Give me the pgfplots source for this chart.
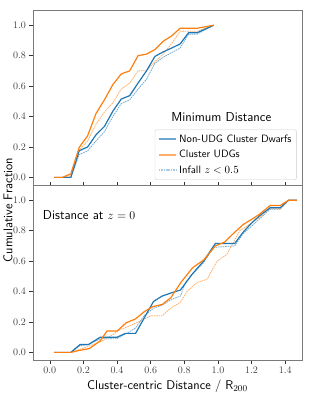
\documentclass[border=0pt]{standalone}
\usepackage{pgfplots}
\pgfplotsset{compat=1.18}
\definecolor{tabblue}{HTML}{1F77B4}
\definecolor{taborange}{HTML}{FF7F0E}
\definecolor{spine}{HTML}{7A7A7A}
\definecolor{legblue}{HTML}{6FA6D0}
\definecolor{legorange}{HTML}{FFAE6A}
\definecolor{legdash}{HTML}{A9CBE6}

\pgfplotstableread{
x     ob     bb     bd     od
0.025 0      0      0      0
0.075 0      0      0      0
0.125 0.024  0      0      0.01
0.175 0.197  0.175  0.15   0.18
0.225 0.274  0.20   0.175  0.24
0.275 0.42   0.28   0.24   0.35
0.325 0.51   0.335  0.30   0.43
0.375 0.61   0.435  0.40   0.49
0.425 0.68   0.515  0.485  0.58
0.475 0.70   0.537  0.51   0.62
0.525 0.80   0.62   0.58   0.70
0.575 0.81   0.70   0.645  0.70
0.625 0.84   0.795  0.75   0.76
0.675 0.895  0.825  0.79   0.81
0.725 0.93   0.85   0.82   0.88
0.775 0.98   0.877  0.85   0.96
0.825 0.98   0.95   0.94   0.96
0.875 0.98   0.95   0.94   0.96
0.925 0.99   0.975  0.97   0.98
0.975 1.0    1.0    1.0    1.0
}\toptable

\pgfplotstableread{
x     y
0.025 0
0.125 0
0.175 0.013
0.235 0.025
0.30  0.076
0.34  0.14
0.40  0.14
0.455 0.195
0.51  0.22
0.56  0.266
0.61  0.30
0.67  0.316
0.72  0.36
0.78  0.46
0.85  0.557
0.915 0.607
0.985 0.70
1.04  0.725
1.10  0.79
1.15  0.84
1.20  0.874
1.25  0.91
1.31  0.965
1.37  0.965
1.42  1.0
1.47  1.0
}\botorange

\pgfplotstableread{
x     y
0.025 0
0.125 0
0.18  0.052
0.23  0.052
0.30  0.10
0.40  0.10
0.45  0.125
0.51  0.125
0.617 0.335
0.668 0.37
0.728 0.393
0.777 0.41
0.846 0.513
0.915 0.60
0.985 0.716
1.10  0.716
1.15  0.79
1.20  0.85
1.25  0.90
1.31  0.95
1.37  0.95
1.42  1.0
1.47  1.0
}\botblue

\pgfplotstableread{
x     y
0.025 0
0.125 0
0.18  0.045
0.23  0.05
0.30  0.09
0.40  0.09
0.45  0.12
0.51  0.16
0.56  0.24
0.617 0.29
0.668 0.31
0.728 0.35
0.777 0.37
0.807 0.46
0.856 0.524
0.915 0.59
0.975 0.69
1.10  0.70
1.15  0.78
1.20  0.83
1.25  0.88
1.31  0.94
1.37  0.94
1.42  1.0
1.47  1.0
}\botbluedash

\pgfplotstableread{
x     y
0.025 0
0.125 0
0.18  0.02
0.23  0.04
0.30  0.07
0.35  0.10
0.42  0.15
0.50  0.186
0.56  0.218
0.60  0.24
0.668 0.24
0.718 0.29
0.777 0.33
0.816 0.40
0.876 0.46
0.935 0.48
0.995 0.60
1.054 0.645
1.10  0.74
1.13  0.80
1.20  0.85
1.25  0.89
1.31  0.945
1.37  0.945
1.42  1.0
1.47  1.0
}\botorangedash

\begin{document}
\begin{tikzpicture}
\path[use as bounding box] (-33pt,-386pt) rectangle (281pt,10pt);
\pgfplotsset{
  panel/.style={
    scale only axis, width=269pt, height=175pt,
    xmin=-0.1, xmax=1.5, ymin=-0.05, ymax=1.1,
    axis line style={spine, line width=0.8pt},
    xtick={0,0.2,0.4,0.6,0.8,1.0,1.2,1.4},
    ytick={0,0.2,0.4,0.6,0.8,1.0},
    tick align=outside, major tick length=3.5pt,
    xtick pos=bottom, ytick pos=left,
    tick style={black!80, line width=0.6pt},
    ticklabel style={font=\normalsize, text=black!75},
    yticklabel style={/pgf/number format/.cd, fixed, fixed zerofill, precision=1},
    xticklabel style={/pgf/number format/.cd, fixed, fixed zerofill, precision=1},
    solidb/.style={color=tabblue, line width=1.2pt},
    solido/.style={color=taborange, line width=1.2pt},
    dashb/.style={color=tabblue!65, line width=0.75pt, dash pattern=on 1.6pt off 0.8pt},
    dasho/.style={color=taborange!65, line width=0.75pt, dash pattern=on 1.6pt off 0.8pt},
  }
}
\begin{axis}[panel, at={(0pt,0pt)}, anchor=north west,
  xticklabels={}, x tick style={yshift=3.5pt},
  legend cell align=left,
  legend image code/.code={\draw[line width=1.6pt, #1] (0cm,0cm) -- (0.62cm,0cm);},
  legend style={at={(rel axis cs:0.980,0.029)}, anchor=south east,
    draw=black!20, rounded corners=2pt, fill=white, fill opacity=0.8, text opacity=1,
    font=\sffamily\fontsize{10.6}{12.5}\selectfont, inner xsep=3pt, inner ysep=3pt, row sep=2.5pt},
]
\addlegendimage{draw=legblue}
\addlegendentry{Non-UDG Cluster Dwarfs}
\addlegendimage{draw=legorange}
\addlegendentry{Cluster UDGs}
\addlegendimage{draw=legdash, line width=1pt, dash pattern=on 1.6pt off 0.8pt}
\addlegendentry{Infall $z<0.5$}
\addplot[dashb, forget plot] table[x=x, y=bd] {\toptable};
\addplot[dasho, forget plot] table[x=x, y=od] {\toptable};
\addplot[solidb, forget plot] table[x=x, y=bb] {\toptable};
\addplot[solido, forget plot] table[x=x, y=ob] {\toptable};
\node[font=\sffamily\fontsize{13}{15}\selectfont] at (rel axis cs:0.70,0.39) {Minimum Distance};
\end{axis}

\begin{axis}[panel, at={(0pt,-175pt)}, anchor=north west,
  xlabel={Cluster-centric Distance / R$_{200}$},
  xlabel style={font=\sffamily\fontsize{12.7}{15}\selectfont},
]
\addplot[dashb] table[x=x, y=y] {\botbluedash};
\addplot[dasho] table[x=x, y=y] {\botorangedash};
\addplot[solidb] table[x=x, y=y] {\botblue};
\addplot[solido] table[x=x, y=y] {\botorange};
\node[font=\sffamily\fontsize{13}{15}\selectfont, anchor=west] at (rel axis cs:0.024,0.83) {Distance at $z=0$};
\end{axis}

\node[rotate=90, font=\sffamily\fontsize{12.7}{15}\selectfont] at (-25pt,-200pt) {Cumulative Fraction};
\end{tikzpicture}
\end{document}
